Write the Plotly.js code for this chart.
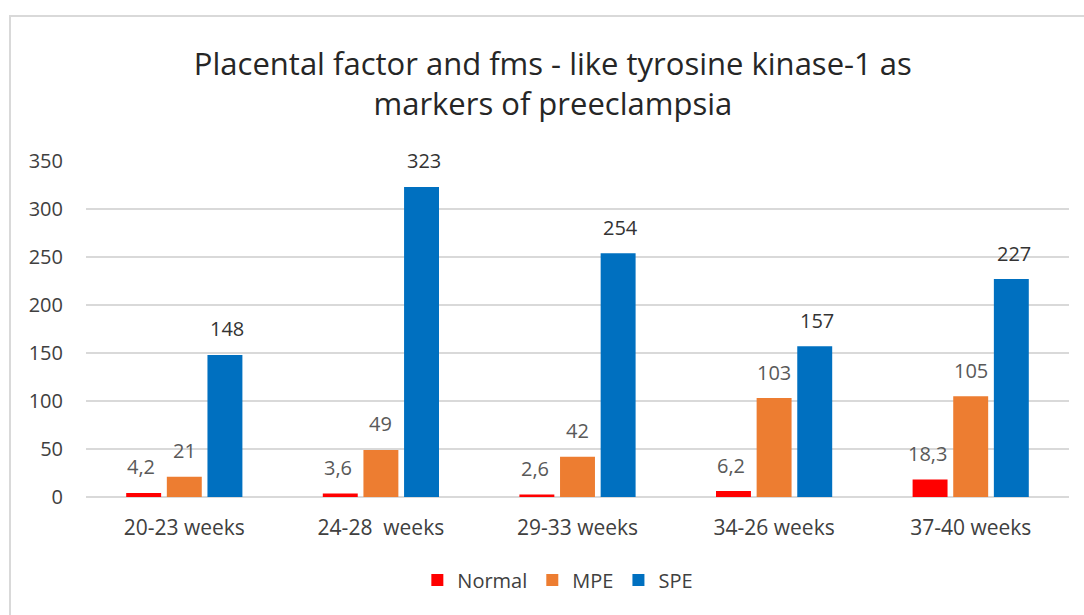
<!DOCTYPE html>
<html>
<head>
<meta charset="utf-8">
<script src="https://cdn.plot.ly/plotly-3.0.1.min.js"></script>
<style>
html,body{margin:0;padding:0;background:#fff;}
#wrap{position:relative;width:1084px;height:615px;overflow:hidden;}
#frame{position:absolute;left:9px;top:15px;width:1090px;height:620px;border:2px solid #d9d9d9;box-sizing:border-box;}
#chart{position:absolute;left:0;top:0;width:1084px;height:615px;}
</style>
</head>
<body>
<div id="wrap"><div id="frame"></div><div id="chart"></div></div>
<script>
const categories = ["20-23 weeks", "24-28\u00a0 weeks", "29-33 weeks", "34-26 weeks", "37-40 weeks"];
const normal = [4.2, 3.6, 2.6, 6.2, 18.3];
const mpe = [21, 49, 42, 103, 105];
const spe = [148, 323, 254, 157, 227];
const seriesNames = ["Normal", "MPE", "SPE"];
const yTicks = [0, 50, 100, 150, 200, 250, 300, 350];

const colors = ["#ff0000", "#ed7d31", "#0070c0"];
const labelColors = ["#595959", "#595959", "#333333"];
const series = [normal, mpe, spe];
const shifts = [-43, 0, 43];

const fmt = v => String(v).replace('.', ',');

const traces = series.map((vals, i) => ({
  type: 'bar', name: seriesNames[i], x: categories, y: vals,
  marker: {color: colors[i]}, hoverinfo: 'none'
}));

const annotations = [];
series.forEach((vals, i) => {
  vals.forEach((v, j) => {
    annotations.push({
      x: categories[j], y: v, xref: 'x', yref: 'y', text: fmt(v),
      showarrow: false, xshift: shifts[i], yshift: 26, yanchor: 'middle',
      font: {family: 'Open Sans, sans-serif', size: 20, color: labelColors[i]}
    });
  });
});

const layout = {
  width: 1084, height: 615,
  paper_bgcolor: 'rgba(0,0,0,0)', plot_bgcolor: 'rgba(0,0,0,0)',
  margin: {l: 86, r: 15, t: 161, b: 118},
  title: {
    text: 'Placental factor and fms - like tyrosine kinase-1 as<br>markers of preeclampsia',
    x: 0.51, xanchor: 'center', y: 0.878, yanchor: 'middle', yref: 'container',
    font: {family: 'Open Sans, sans-serif', size: 31, color: '#262626'}
  },
  barmode: 'group', bargap: 0.38, bargroupgap: 0.14,
  showlegend: true,
  legend: {orientation: 'h', x: 0.48, xanchor: 'center', y: -0.247, yanchor: 'middle',
    font: {family: 'Open Sans, sans-serif', size: 20, color: '#404040'}, itemwidth: 30},
  xaxis: {
    tickfont: {family: 'Open Sans, sans-serif', size: 21, color: '#404040'},
    showgrid: false, showline: false, ticks: '', ticklabelstandoff: 16
  },
  yaxis: {
    range: [0, 350], tickvals: yTicks, ticktext: yTicks.map(String),
    tickfont: {family: 'Open Sans, sans-serif', size: 20, color: '#404040'},
    gridcolor: '#d9d9d9', gridwidth: 2, zeroline: true, zerolinecolor: '#d9d9d9', zerolinewidth: 2,
    showline: false, ticks: '', ticklabelstandoff: 22
  },
  annotations: annotations
};

Plotly.newPlot('chart', traces, layout, {displayModeBar: false, staticPlot: true});
</script>
</body>
</html>
